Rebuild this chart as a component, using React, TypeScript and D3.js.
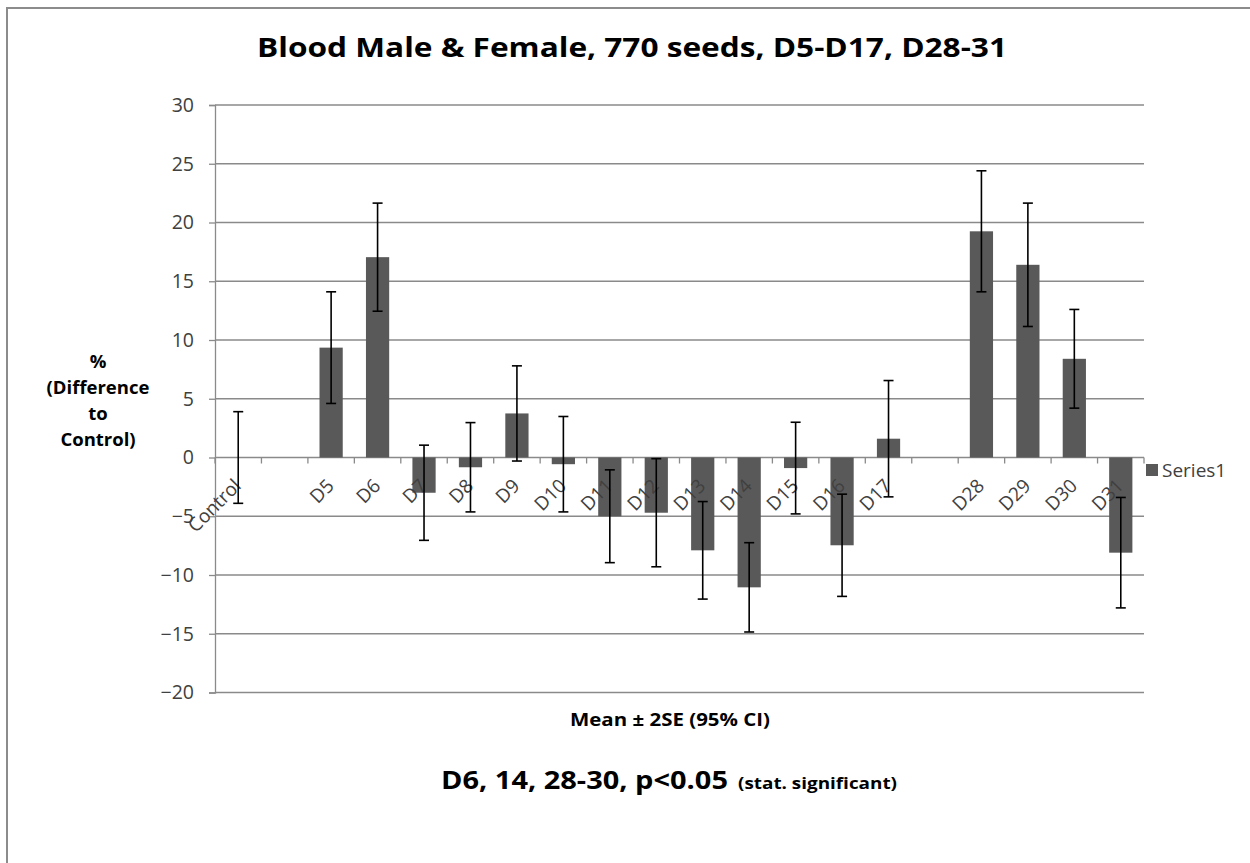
import React, { useEffect, useRef } from 'react';
import * as d3 from 'd3';

// categories ("" and " " are the empty slots between the groups)
const categories = ['Control', '', 'D5', 'D6', 'D7', 'D8', 'D9', 'D10', 'D11', 'D12', 'D13', 'D14', 'D15', 'D16', 'D17', ' ', 'D28', 'D29', 'D30', 'D31'];
const means = [0, null, 9.35, 17.05, -3.0, -0.83, 3.75, -0.57, -5.0, -4.7, -7.9, -11.05, -0.9, -7.47, 1.6, null, 19.25, 16.4, 8.4, -8.1];
const errors = [3.9, null, 4.75, 4.6, 4.05, 3.8, 4.05, 4.06, 3.95, 4.6, 4.15, 3.8, 3.9, 4.35, 4.95, null, 5.15, 5.25, 4.2, 4.7];
const yTicks = [-20, -15, -10, -5, 0, 5, 10, 15, 20, 25, 30];
const yTitle = ['%', '(Difference', 'to', 'Control)'];

const FONT = '"Open Sans", "Noto Sans", sans-serif';

export default function App() {
  const ref = useRef(null);

  useEffect(() => {
    const width = 1250;
    const height = 863;
    const plot = { left: 215, right: 1144, top: 105, bottom: 692.5 };

    const svg = d3.select(ref.current);
    svg.selectAll('*').remove();
    svg.attr('width', width).attr('height', height);

    svg.append('rect').attr('width', width).attr('height', height).attr('fill', '#fff');

    // frame (top and left edges only are visible)
    svg.append('path')
      .attr('d', `M7,${height} L7,8 L${width},8`)
      .attr('fill', 'none')
      .attr('stroke', '#8c8c8c')
      .attr('stroke-width', 2);

    const x = d3.scaleBand()
      .domain(categories)
      .range([plot.left, plot.right])
      .paddingInner(0.5)
      .paddingOuter(0.25);

    const y = d3.scaleLinear()
      .domain([-20, 30])
      .range([plot.bottom, plot.top]);

    const step = x.step();
    const half = (step - x.bandwidth()) / 2;

    // gridlines
    svg.append('g')
      .selectAll('line')
      .data(yTicks)
      .enter()
      .append('line')
      .attr('x1', plot.left)
      .attr('x2', plot.right)
      .attr('y1', d => y(d))
      .attr('y2', d => y(d))
      .attr('stroke', '#8a8a8a')
      .attr('stroke-width', 1.3);

    // y axis
    const yAxis = d3.axisLeft(y).tickValues(yTicks).tickSize(6).tickPadding(15);
    const gy = svg.append('g')
      .attr('transform', `translate(${plot.left},0)`)
      .call(yAxis);
    gy.select('.domain').attr('stroke', '#8a8a8a').attr('stroke-width', 1.3);
    gy.selectAll('.tick line').attr('stroke', '#8a8a8a').attr('stroke-width', 1.3);
    gy.selectAll('.tick text')
      .attr('font-family', FONT)
      .attr('font-size', 19.5)
      .attr('fill', '#404040');

    // x axis at zero with ticks at band edges
    const edges = categories.map(c => x(c) - half).concat([plot.right]);
    svg.append('g')
      .selectAll('line')
      .data(edges)
      .enter()
      .append('line')
      .attr('x1', d => d)
      .attr('x2', d => d)
      .attr('y1', y(0))
      .attr('y2', y(0) + 6)
      .attr('stroke', '#8a8a8a')
      .attr('stroke-width', 1.3);

    // bars
    const rows = categories.map((c, i) => ({ c, v: means[i], e: errors[i] }));
    const withValue = rows.filter(d => d.v !== null);

    svg.append('g')
      .selectAll('rect')
      .data(withValue.filter(d => d.v !== 0))
      .enter()
      .append('rect')
      .attr('x', d => x(d.c))
      .attr('y', d => y(Math.max(0, d.v)))
      .attr('width', x.bandwidth())
      .attr('height', d => Math.abs(y(d.v) - y(0)))
      .attr('fill', '#595959');

    // category labels
    svg.append('g')
      .selectAll('text')
      .data(rows.filter(d => d.c.trim() !== ''))
      .enter()
      .append('text')
      .attr('transform', d => `translate(${x(d.c) + x.bandwidth() / 2 + 4},487) rotate(-45)`)
      .attr('text-anchor', 'end')
      .attr('font-family', FONT)
      .attr('font-size', 19)
      .attr('fill', '#404040')
      .text(d => d.c);

    // error bars
    const err = svg.append('g')
      .attr('stroke', '#000')
      .attr('stroke-width', 1.6)
      .selectAll('g')
      .data(withValue)
      .enter()
      .append('g')
      .attr('transform', d => `translate(${x(d.c) + x.bandwidth() / 2},0)`);
    err.append('line')
      .attr('y1', d => y(d.v + d.e))
      .attr('y2', d => y(d.v - d.e));
    err.append('line')
      .attr('x1', -5).attr('x2', 5)
      .attr('y1', d => y(d.v + d.e))
      .attr('y2', d => y(d.v + d.e));
    err.append('line')
      .attr('x1', -5).attr('x2', 5)
      .attr('y1', d => y(d.v - d.e))
      .attr('y2', d => y(d.v - d.e));

    // legend
    svg.append('rect')
      .attr('x', 1146).attr('y', 464)
      .attr('width', 12).attr('height', 12)
      .attr('fill', '#595959');
    svg.append('text')
      .attr('x', 1162).attr('y', 477)
      .attr('font-family', FONT)
      .attr('font-size', 19)
      .attr('fill', '#404040')
      .text('Series1');

    // title
    svg.append('text')
      .attr('x', 632).attr('y', 57)
      .attr('text-anchor', 'middle')
      .attr('font-family', FONT)
      .attr('font-weight', 'bold')
      .attr('font-size', 26)
      .attr('textLength', 750)
      .attr('lengthAdjust', 'spacingAndGlyphs')
      .text('Blood Male & Female, 770 seeds, D5-D17, D28-31');

    // y axis title
    svg.append('g')
      .selectAll('text')
      .data(yTitle)
      .enter()
      .append('text')
      .attr('x', 98)
      .attr('y', (d, i) => 368 + i * 26)
      .attr('text-anchor', 'middle')
      .attr('font-family', FONT)
      .attr('font-weight', 'bold')
      .attr('font-size', 18.5)
      .text(d => d);

    // x axis title
    svg.append('text')
      .attr('x', 670).attr('y', 726)
      .attr('text-anchor', 'middle')
      .attr('font-family', FONT)
      .attr('font-weight', 'bold')
      .attr('font-size', 17)
      .attr('textLength', 200)
      .attr('lengthAdjust', 'spacingAndGlyphs')
      .text('Mean ± 2SE  (95% CI)');

    // footnote
    const note = svg.append('text')
      .attr('y', 789)
      .attr('font-family', FONT)
      .attr('font-weight', 'bold');
    note.append('tspan')
      .attr('x', 441)
      .attr('font-size', 25)
      .attr('textLength', 287)
      .attr('lengthAdjust', 'spacingAndGlyphs')
      .text('D6, 14, 28-30,  p<0.05');
    note.append('tspan')
      .attr('x', 738)
      .attr('font-size', 16)
      .attr('textLength', 159)
      .attr('lengthAdjust', 'spacingAndGlyphs')
      .text('(stat. significant)');
  }, []);

  return <svg ref={ref} style={{ position: 'absolute', left: 0, top: 0, display: 'block' }} />;
}
